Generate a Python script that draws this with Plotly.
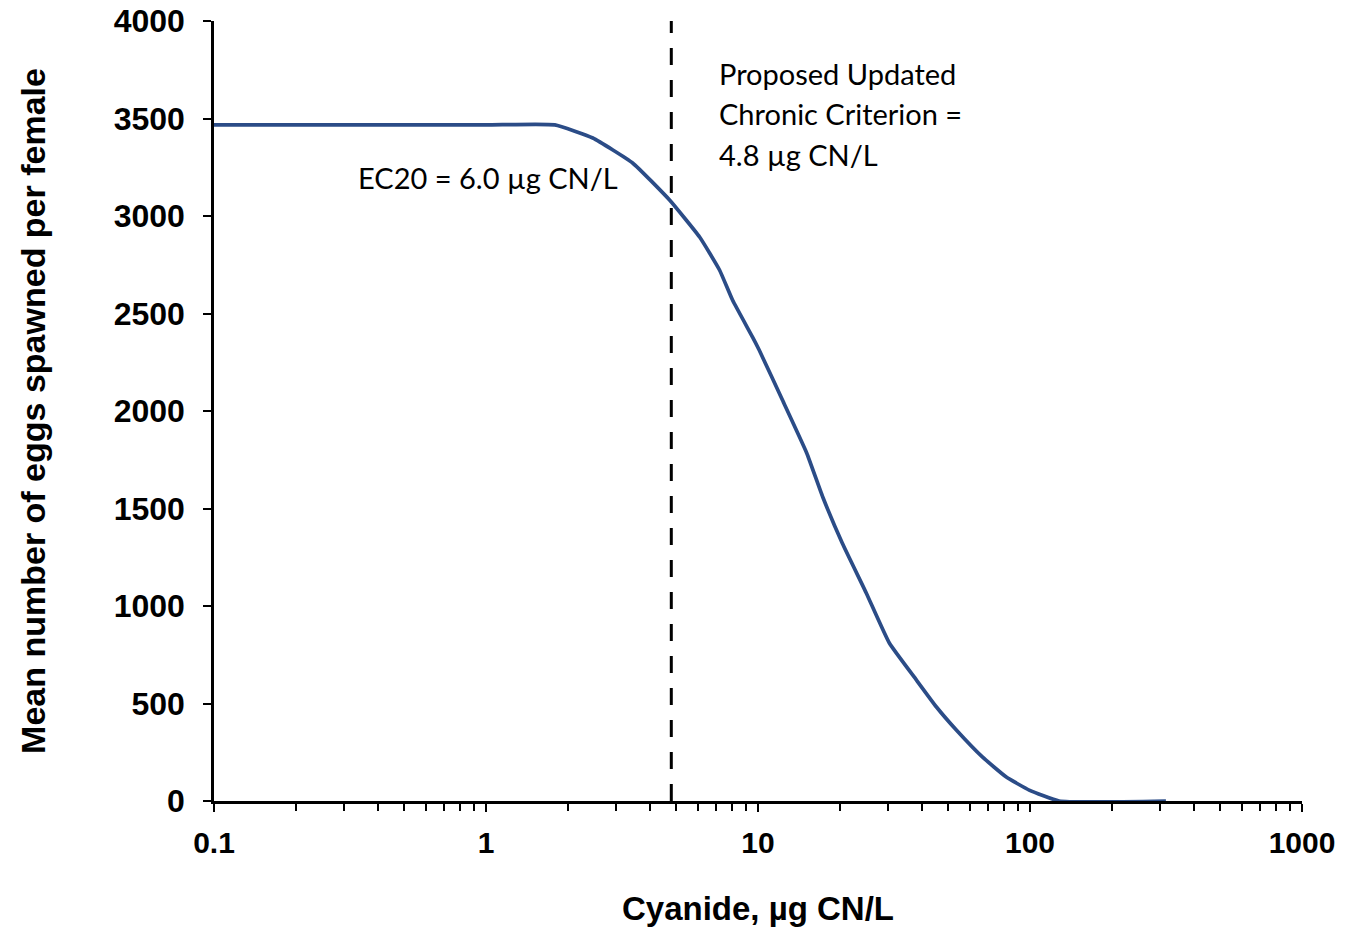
import plotly.graph_objects as go

# Concentration-response curve: cyanide concentration vs. mean eggs per female
cyanide_ug_l = [0.1, 1.0, 1.79, 2.47, 3.46, 4.73, 6.10, 7.22, 8.06, 9.55, 10.1, 12.3, 15.1,
                17.3, 20.4, 25.0, 30.4, 38.2, 45.3, 53.6, 66.8, 81.8, 99.3, 128, 316]
mean_eggs = [3467, 3467, 3467, 3400, 3272, 3082, 2892, 2723, 2569, 2379, 2313, 2056, 1785,
             1559, 1323, 1067, 810, 621, 482, 364, 226, 123, 56, 0, 0]

criterion = 4.8
x_ticks = [0.1, 1, 10, 100, 1000]
x_tick_labels = ["0.1", "1", "10", "100", "1000"]
minor_ticks = [m * d for d in (0.1, 1, 10, 100) for m in range(2, 10)]

ec20_label = "EC20 = 6.0 µg CN/L"
criterion_lines = ["Proposed Updated", "Chronic Criterion =", "4.8 µg CN/L"]
criterion_line_y = [3733, 3528, 3313]

fig = go.Figure()
fig.add_trace(go.Scatter(
    x=cyanide_ug_l, y=mean_eggs, mode="lines",
    line=dict(color="#2B4C87", width=3.7, shape="spline", smoothing=0.4),
    showlegend=False, hoverinfo="skip",
))
fig.add_trace(go.Scatter(
    x=[criterion, criterion], y=[0, 4000], mode="lines",
    line=dict(color="black", width=3, dash="17px,15px"),
    showlegend=False, hoverinfo="skip",
))

label_font = dict(family="Lato, Carlito, sans-serif", size=29, color="black")
fig.add_annotation(x=0.491, y=3195, xref="x", yref="y", text=ec20_label,
                   showarrow=False, xanchor="right", yanchor="middle", font=label_font)
for line, yv in zip(criterion_lines, criterion_line_y):
    fig.add_annotation(x=0.8476, y=yv, xref="x", yref="y", text=line,
                       showarrow=False, xanchor="left", yanchor="middle",
                       font=label_font)

axis_font = dict(family="Arial, Liberation Sans, sans-serif", color="black")
fig.update_xaxes(
    type="log", range=[-1, 3], tickvals=x_ticks, ticktext=x_tick_labels,
    ticks="outside", ticklen=8, tickwidth=1.5, tickcolor="black",
    minor=dict(tickvals=minor_ticks, ticks="outside", ticklen=7, tickwidth=1.5,
               tickcolor="black", showgrid=False),
    showline=True, linecolor="black", linewidth=2.5, showgrid=False, zeroline=False,
    tickfont=dict(axis_font, size=30, weight="bold"),
    ticklabelstandoff=5,
    automargin=False,
    title=dict(text="<b>Cyanide, µg CN/L</b>", font=dict(axis_font, size=33), standoff=40),
)
fig.update_yaxes(
    range=[0, 4000], dtick=500, ticks="outside", ticklen=8, tickwidth=1.5,
    tickcolor="black", showline=True, linecolor="black", linewidth=2.5,
    showgrid=False, zeroline=False,
    tickfont=dict(axis_font, size=32, weight="bold"),
    ticklabelstandoff=12,
    automargin=False,
    title=dict(text="<b>Mean number of eggs spawned per female</b>",
               font=dict(axis_font, size=34), standoff=58),
)
fig.update_layout(
    width=1349, height=927, plot_bgcolor="white", paper_bgcolor="white",
    margin=dict(l=214, r=47, t=21, b=126),
)
fig.write_html("out.html")
